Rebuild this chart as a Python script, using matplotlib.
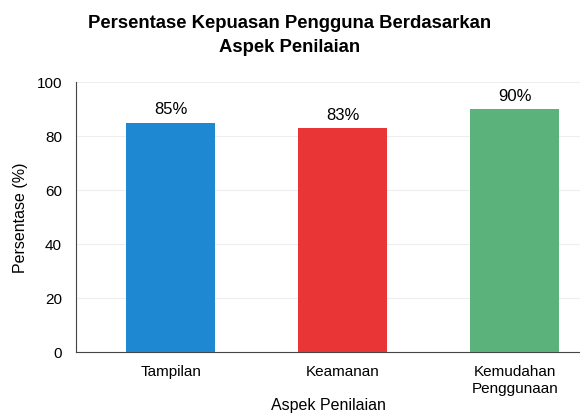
import matplotlib.pyplot as plt

kategori = ["Tampilan", "Keamanan", "Kemudahan\nPenggunaan"]
nilai = [85, 83, 90]
label_nilai = ["85%", "83%", "90%"]
warna = ["#1f88d2", "#e93536", "#5bb27b"]

plt.rcParams["font.family"] = ["Liberation Sans", "DejaVu Sans"]

fig = plt.figure(figsize=(5.8, 4.17), dpi=100)
ax = fig.add_axes([0.131, 0.155, 0.869, 0.648])

x = range(len(kategori))
bars = ax.bar(x, nilai, width=0.52, color=warna, zorder=3)

for b, lbl in zip(bars, label_nilai):
    ax.text(b.get_x() + b.get_width() / 2, b.get_height() + 2, lbl,
            ha="center", va="bottom", fontsize=12)

ax.set_ylim(0, 100)
ax.set_xlim(-0.55, 2.38)
ax.set_yticks([0, 20, 40, 60, 80, 100])
ax.set_xticks(list(x))
ax.set_xticklabels(kategori, fontsize=11, linespacing=1.3)
ax.tick_params(axis="y", labelsize=11, length=0, pad=10)
ax.tick_params(axis="x", length=0, pad=9)
ax.grid(axis="y", color="#eeeeee", linewidth=0.8, zorder=0)

for s in ["top", "right"]:
    ax.spines[s].set_visible(False)
ax.spines["left"].set_color("#444444")
ax.spines["bottom"].set_color("#444444")

ax.set_ylabel("Persentase (%)", fontsize=11.5, labelpad=6)
ax.set_xlabel("Aspek Penilaian", fontsize=11.5, labelpad=1)

fig.suptitle("Persentase Kepuasan Pengguna Berdasarkan\nAspek Penilaian",
             fontsize=13.3, fontweight="bold", y=0.965, x=0.5, linespacing=1.6)

fig.savefig("out.png", dpi=100)
